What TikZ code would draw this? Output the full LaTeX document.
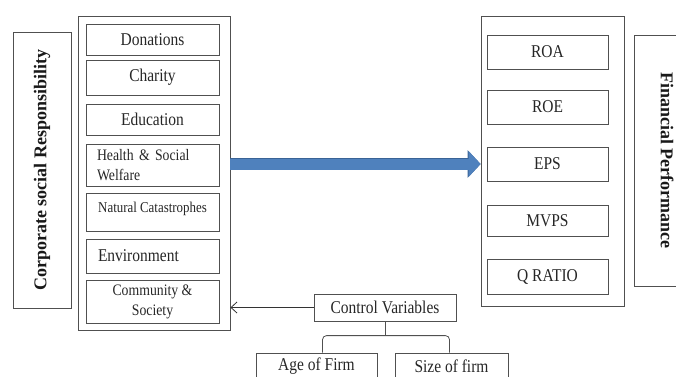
\documentclass[tikz,border=0pt]{standalone}
\usepackage{fontspec}
\setmainfont{Liberation Serif}[FakeStretch=0.86]
\newfontfamily\sidefont{Liberation Serif}
\usetikzlibrary{arrows.meta,positioning}
\definecolor{csrline}{HTML}{505050}
\definecolor{csrblue}{HTML}{4F81BD}
\definecolor{csrblueedge}{HTML}{3A6396}

\begin{document}
\begin{tikzpicture}[x=1pt,y=-1pt,
  frame/.style={draw=csrline,line width=0.8pt,inner sep=0pt},
  item/.style={draw=csrline,line width=0.8pt,inner sep=0pt,align=center,text=black!85,font=\fontsize{18}{21}\selectfont},
  side/.style={draw=csrline,line width=0.8pt,inner sep=0pt,text=black!90,font=\sidefont\bfseries\fontsize{18}{21}\selectfont},
  bigarrow/.style={line width=11pt,draw=csrblue,-{Triangle[length=12pt,width=25pt]},
    preaction={draw=csrblueedge,line width=12.4pt,-{Triangle[length=13pt,width=27pt]}}},
  ctrlarrow/.style={-{Straight Barb[length=6pt,width=11pt]},draw=black!80,line width=0.8pt},
  bracket/.style={draw=csrline,line width=0.8pt,rounded corners=4pt}
]
\useasboundingbox (0,0) rectangle (676,376);
\clip (0,0) rectangle (676,376);
% side labels
\node[side,rotate=90,minimum width=276,minimum height=58] (csr) at (42,170) {Corporate social Responsibility};
\node[side,rotate=-90,minimum width=251,minimum height=66] (fp) at (667,160.5) {Financial Performance};
% CSR dimensions
\node[frame,minimum width=152,minimum height=314] (lhs) at (154,173) {};
\node[item,minimum width=133,minimum height=31] (don) at (152.5,39.5) {Donations};
\node[item,minimum width=133,minimum height=35] (cha) at (152.5,77.5) {Charity};
\node[item,minimum width=133,minimum height=31] (edu) at (152.5,119.5) {Education};
\node[item,inner xsep=11pt,text width=111,align=left,minimum height=42,font=\fontsize{16}{20}\selectfont] (hsw) at (152.5,165) {Health \& Social\\Welfare};
\node[item,minimum width=133,inner ysep=2pt,text height=17pt,text depth=17pt,font=\fontsize{15}{18}\selectfont] (nat) at (152.5,212) {Natural Catastrophes};
\node[item,inner xsep=12pt,text width=109,align=left,minimum height=34] (env) at (152.5,256) {Environment};
\node[item,minimum width=133,minimum height=43,font=\fontsize{16}{20}\selectfont] (com) at (152.5,302) {Community \&\\Society};
% performance measures
\node[frame,minimum width=143,minimum height=290] (rhs) at (552.5,161) {};
\node[item,minimum width=121,minimum height=34] (roa) at (547.5,52) {ROA};
\node[item,minimum width=121,minimum height=34] (roe) at (547.5,107) {ROE};
\node[item,minimum width=121,minimum height=34] (eps) at (547.5,164) {EPS};
\node[item,minimum width=121,minimum height=31] (mvps) at (547.5,220.5) {MVPS};
\node[item,minimum width=121,minimum height=35] (qr) at (547.5,276.5) {Q RATIO};
% controls
\node[item,minimum width=142,minimum height=27] (ctrl) at (385,307.5) {Control Variables};
\node[item,minimum width=121,minimum height=26] (age) at (316.5,366) {Age of Firm};
\node[item,minimum width=113,minimum height=26] (size) at (451.5,366) {Size of firm};
\draw[bigarrow] (lhs.east |- eps) -- (rhs.west |- eps);
\draw[ctrlarrow] (ctrl) -- (lhs.east |- ctrl);
\draw[bracket] (ctrl.south) -- ++(0,15);
\draw[bracket] ([xshift=6pt]age.north) -- ++(0,-17) -| ([xshift=-2pt]size.north);
\end{tikzpicture}
\end{document}
